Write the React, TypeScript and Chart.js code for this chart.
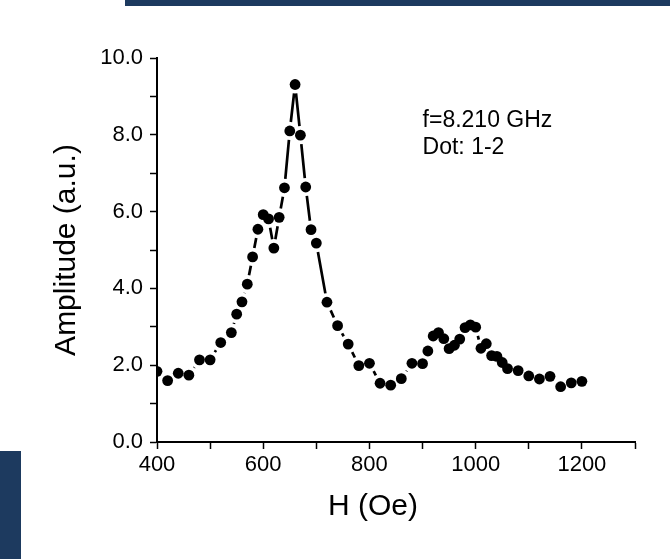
import React, { useEffect, useRef } from "react";
import { Chart, registerables } from "chart.js";

Chart.register(...registerables);

// Field H (Oe)
const H_VALUES: number[] = [
  400, 420, 440, 460, 480, 500, 520, 540, 550, 560, 570, 580, 590, 600, 610,
  620, 630, 640, 650, 660, 670, 680, 690, 700, 720, 740, 760, 780, 800, 820,
  840, 860, 880, 900, 910, 920, 930, 940, 950, 960, 970, 980, 990, 1000, 1010,
  1020, 1030, 1040, 1050, 1060, 1080, 1100, 1120, 1140, 1160, 1180, 1200,
];

// Amplitude (a.u.)
const AMPLITUDE: number[] = [
  1.84, 1.6, 1.79, 1.74, 2.14, 2.14, 2.59, 2.85, 3.33, 3.65, 4.11, 4.82, 5.54,
  5.92, 5.81, 5.05, 5.85, 6.62, 8.1, 9.31, 7.99, 6.64, 5.53, 5.18, 3.64, 3.03,
  2.55, 1.99, 2.05, 1.53, 1.48, 1.65, 2.05, 2.04, 2.37, 2.76, 2.85, 2.69, 2.43,
  2.52, 2.68, 2.98, 3.05, 2.99, 2.44, 2.56, 2.25, 2.23, 2.07, 1.91, 1.86, 1.72,
  1.64, 1.71, 1.44, 1.54, 1.58,
];

const X_MIN = 400;
const X_MAX = 1300;
const Y_MIN = 0;
const Y_MAX = 10;

const X_TITLE = "H (Oe)";
const Y_TITLE = "Amplitude (a.u.)";
const ANNOTATION_LINES: string[] = ["f=8.210 GHz", "Dot: 1-2"];
const ANNOTATION_H = 900;
const ANNOTATION_AMP = 8.2;

const FONT = "'Liberation Sans', Arial, Helvetica, sans-serif";
const NAVY = "#1d3a5f";
const GAP = 9;

const gapLinePlugin = {
  id: "gapLine",
  beforeDatasetsDraw(chart: any) {
    const meta = chart.getDatasetMeta(0);
    const pts = meta.data;
    const ctx = chart.ctx;
    const { left, right, top, bottom } = chart.chartArea;
    ctx.save();
    ctx.beginPath();
    ctx.rect(left, top, right - left, bottom - top);
    ctx.clip();
    ctx.strokeStyle = "#000";
    ctx.lineWidth = 2.7;
    ctx.lineCap = "butt";
    ctx.beginPath();
    for (let i = 0; i < pts.length - 1; i++) {
      const a = pts[i];
      const b = pts[i + 1];
      const dx = b.x - a.x;
      const dy = b.y - a.y;
      const d = Math.hypot(dx, dy);
      if (d <= 2 * GAP) continue;
      const ux = dx / d;
      const uy = dy / d;
      ctx.moveTo(a.x + ux * GAP, a.y + uy * GAP);
      ctx.lineTo(b.x - ux * GAP, b.y - uy * GAP);
    }
    ctx.stroke();
    ctx.restore();
  },
};

const textPlugin = {
  id: "extraText",
  afterDatasetsDraw(chart: any) {
    const ctx = chart.ctx;
    const { left, bottom } = chart.chartArea;
    const x = chart.scales.x.getPixelForValue(ANNOTATION_H);
    const y = chart.scales.y.getPixelForValue(ANNOTATION_AMP);
    ctx.save();
    ctx.fillStyle = "#000";
    ctx.font = `23px ${FONT}`;
    ctx.textAlign = "left";
    ctx.textBaseline = "alphabetic";
    ANNOTATION_LINES.forEach((t, i) => ctx.fillText(t, x, y + i * 27.3));
    // x-axis title (sits left of centre in the original)
    ctx.font = `30px ${FONT}`;
    ctx.textAlign = "center";
    ctx.textBaseline = "middle";
    ctx.fillText(X_TITLE, left + 216, bottom + 65);
    ctx.restore();
  },
};

export default function App() {
  const canvasRef = useRef<HTMLCanvasElement | null>(null);

  useEffect(() => {
    const canvas = canvasRef.current;
    if (!canvas) return;
    const chart = new Chart(canvas, {
      type: "scatter",
      data: {
        datasets: [
          {
            data: H_VALUES.map((h, i) => ({ x: h, y: AMPLITUDE[i] })),
            showLine: false,
            pointRadius: 5.4,
            pointHoverRadius: 5.4,
            pointBackgroundColor: "#000",
            pointBorderWidth: 0,
            clip: 0,
          } as any,
        ],
      },
      options: {
        animation: false,
        responsive: false,
        maintainAspectRatio: false,
        events: [],
        layout: { padding: { left: 49, top: 58, right: 35, bottom: 37 } },
        plugins: {
          legend: { display: false },
          tooltip: { enabled: false },
        },
        scales: {
          x: {
            type: "linear",
            min: X_MIN,
            max: X_MAX,
            ticks: {
              stepSize: 100,
              autoSkip: false,
              maxRotation: 0,
              padding: 3,
              color: "#000",
              font: { family: FONT, size: 22 },
              callback: (v: any) =>
                Number(v) % 200 === 0 && Number(v) <= 1200 ? String(v) : "",
            },
            grid: {
              drawOnChartArea: false,
              drawTicks: true,
              tickLength: 7,
              tickColor: "#000",
              tickWidth: 1.5,
            },
            border: { display: true, color: "#000", width: 2 },
            title: { display: false },
            afterFit: (s: any) => {
              s.height = 80;
            },
          },
          y: {
            type: "linear",
            min: Y_MIN,
            max: Y_MAX,
            ticks: {
              stepSize: 1,
              autoSkip: false,
              padding: 7,
              color: "#000",
              font: { family: FONT, size: 22 },
              callback: (v: any) =>
                Number(v) % 2 === 0 ? Number(v).toFixed(1) : "",
            },
            grid: {
              drawOnChartArea: false,
              drawTicks: true,
              tickLength: 7,
              tickColor: "#000",
              tickWidth: 1.5,
            },
            border: { display: true, color: "#000", width: 2 },
            title: {
              display: true,
              text: Y_TITLE,
              color: "#000",
              font: { family: FONT, size: 30 },
              padding: 0,
            },
            afterFit: (s: any) => {
              s.width = 108;
            },
          },
        },
      },
      plugins: [gapLinePlugin, textPlugin],
    });
    return () => chart.destroy();
  }, []);

  return (
    <div
      style={{
        position: "absolute",
        left: 0,
        top: 0,
        width: 670,
        height: 559,
        background: "#fff",
        overflow: "hidden",
      }}
    >
      <div
        style={{
          position: "absolute",
          left: 125,
          top: 0,
          width: 545,
          height: 6,
          background: NAVY,
        }}
      />
      <div
        style={{
          position: "absolute",
          left: 0,
          top: 451,
          width: 21,
          height: 108,
          background: NAVY,
        }}
      />
      <canvas
        ref={canvasRef}
        width={670}
        height={559}
        style={{ position: "absolute", left: 0, top: 0, width: 670, height: 559 }}
      />
    </div>
  );
}
